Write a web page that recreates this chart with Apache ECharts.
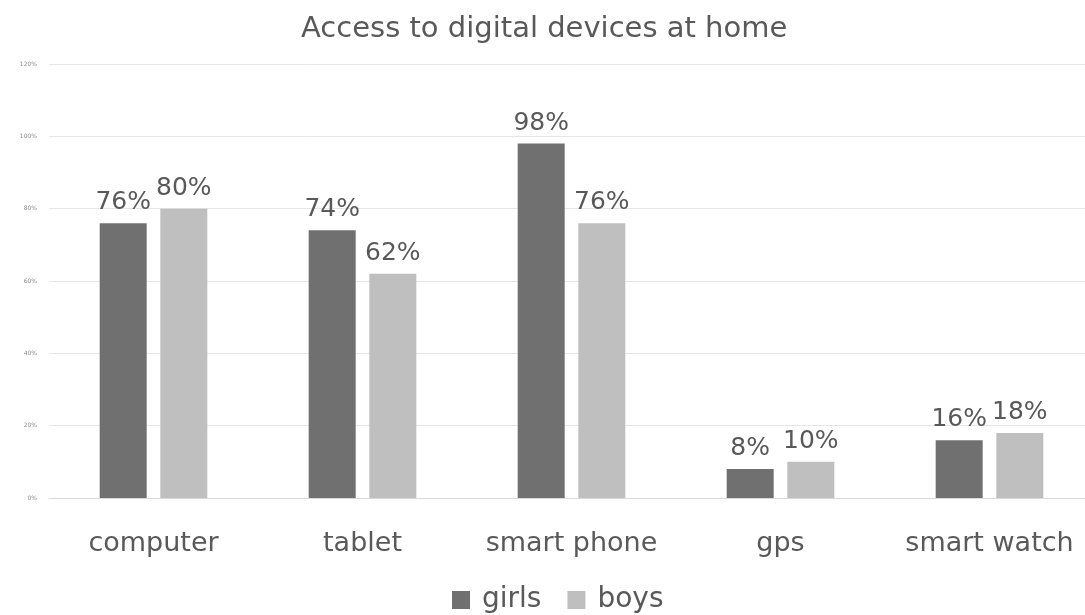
<!DOCTYPE html>
<html>
<head>
<meta charset="utf-8">
<script src="https://cdn.jsdelivr.net/npm/echarts@6/dist/echarts.min.js"></script>
<style>
  html, body { margin: 0; padding: 0; background: #ffffff; overflow: hidden; }
  #wrap { width: 1085px; height: 615px; overflow: hidden; }
  /* the plot band runs a little past the right edge of the visible area */
  #chart { width: 1100px; height: 615px; }
</style>
</head>
<body>
<div id="wrap"><div id="chart"></div></div>
<script>
const categories = ['computer', 'tablet', 'smart phone', 'gps', 'smart watch'];
const girls = [76, 74, 98, 8, 16];
const boys = [80, 62, 76, 10, 18];
const yTicks = [0, 20, 40, 60, 80, 100, 120];

const chart = echarts.init(document.getElementById('chart'), null, { renderer: 'canvas' });
const font = '"DejaVu Sans", sans-serif';
const labelStyle = {
  show: true,
  position: 'top',
  distance: 8,
  formatter: p => p.value + '%',
  color: '#595959',
  fontSize: 25,
  fontFamily: font
};

chart.setOption({
  animation: false,
  title: {
    text: 'Access to digital devices at home',
    left: 296,
    top: 10,
    textStyle: { color: '#595959', fontSize: 29, fontWeight: 'normal', fontFamily: font }
  },
  legend: {
    top: 581,
    left: 447,
    itemWidth: 18,
    itemHeight: 18,
    itemGap: 26,
    icon: 'rect',
    textStyle: { color: '#595959', fontSize: 28, fontFamily: font, padding: [0, 0, 0, 7] }
  },
  grid: { left: 49, width: 1045, top: 64, bottom: 117, containLabel: false },
  xAxis: {
    type: 'category',
    data: categories,
    axisLine: { show: true, lineStyle: { color: '#d9d9d9' } },
    axisTick: { show: false },
    axisLabel: { interval: 0, color: '#595959', fontSize: 27, fontFamily: font, margin: 32 }
  },
  yAxis: {
    type: 'value',
    min: yTicks[0],
    max: yTicks[yTicks.length - 1],
    interval: yTicks[1] - yTicks[0],
    axisLine: { show: false },
    axisTick: { show: false },
    axisLabel: { color: '#8c8c8c', fontSize: 6, fontFamily: font, margin: 12, formatter: v => v + '%' },
    splitLine: { lineStyle: { color: '#e6e6e6', width: 1 } }
  },
  series: [
    {
      name: 'girls',
      type: 'bar',
      data: girls,
      barWidth: 47,
      barGap: '29%',
      itemStyle: { color: '#707070' },
      label: labelStyle
    },
    {
      name: 'boys',
      type: 'bar',
      data: boys,
      barWidth: 47,
      itemStyle: { color: '#bfbfbf' },
      label: labelStyle
    }
  ]
});
</script>
</body>
</html>
